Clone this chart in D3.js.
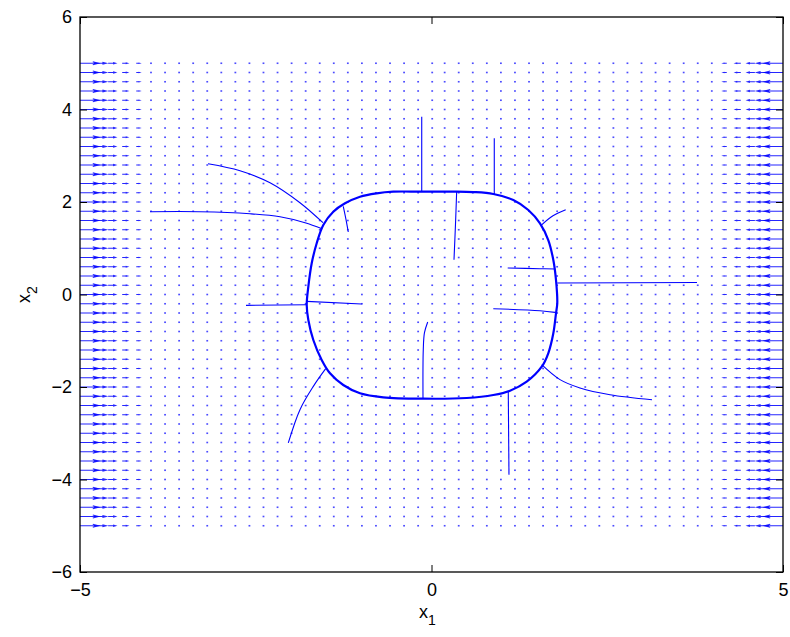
<!DOCTYPE html>
<html>
<head>
<meta charset="utf-8">
<script src="https://cdn.jsdelivr.net/npm/d3@7"></script>
<style>
  body { margin: 0; background: #fff; }
  svg { display: block; }
  .tick text { font-family: "Liberation Sans", Arial, sans-serif; font-size: 18px; fill: #000; }
  .tick line { stroke: #000; stroke-width: 1; }
</style>
</head>
<body>
<svg id="chart" width="790" height="637"></svg>
<script>
// axis ranges and ticks
var X_DOMAIN = [-5, 5];
var Y_DOMAIN = [-6, 6];
var X_TICKS = [-5, 0, 5];
var Y_TICKS = [-6, -4, -2, 0, 2, 4, 6];

// quiver grid: rows / columns of the field (x1, x2 in [-5,5], step 0.2)
var QUIVER_COLS = [-5, -4.8, -4.6, -4.4, -4.2, -4, -3.8, -3.6, -3.4, -3.2, -3, -2.8, -2.6, -2.4, -2.2, -2,
  -1.8, -1.6, -1.4, -1.2, -1, -0.8, -0.6, -0.4, -0.2, 0, 0.2, 0.4, 0.6, 0.8, 1, 1.2, 1.4, 1.6, 1.8,
  2, 2.2, 2.4, 2.6, 2.8, 3, 3.2, 3.4, 3.6, 3.8, 4, 4.2, 4.4, 4.6, 4.8, 5];
var QUIVER_ROWS = QUIVER_COLS.slice();
// horizontal arrow component per column (points to the centre)
var QUIVER_U = [0.26, 0.17, 0.10, 0.07, 0.045, 0.03, 0.022, 0.018, 0.016, 0.015, 0.015, 0.015, 0.014, 0.014, 0.014, 0.014,
  0.014, 0.014, 0.014, 0.014, 0.014, 0.014, 0.014, 0.014, 0.014, 0.012, -0.014, -0.014, -0.014, -0.014, -0.014, -0.014, -0.014, -0.014, -0.014,
  -0.014, -0.014, -0.014, -0.014, -0.015, -0.015, -0.015, -0.016, -0.018, -0.022, -0.03, -0.045, -0.07, -0.10, -0.17, -0.26];

// closed attracting curve
var CYCLE = [
  [-1.775, -0.227], [-1.752, 0.169], [-1.704, 0.675], [-1.633, 1.107], [-1.539, 1.503], [-1.397, 1.790],
  [-1.230, 1.972], [-1.017, 2.115], [-0.780, 2.188], [-0.543, 2.223], [-0.164, 2.225], [0.300, 2.225],
  [0.595, 2.215], [0.879, 2.173], [1.164, 2.043], [1.377, 1.827], [1.543, 1.539], [1.661, 1.178],
  [1.733, 0.746], [1.771, 0.314], [1.789, -0.190], [1.771, -0.406], [1.733, -0.839], [1.661, -1.271],
  [1.568, -1.561], [1.354, -1.885], [1.117, -2.080], [0.879, -2.173], [0.501, -2.238], [-0.117, -2.253],
  [-0.686, -2.223], [-1.017, -2.136], [-1.255, -1.957], [-1.444, -1.704], [-1.562, -1.416], [-1.681, -0.984],
  [-1.752, -0.551]
];

// trajectories converging onto the curve
var TRAJ_1 = [[-3.179, 2.827], [-2.724, 2.676], [-2.297, 2.416], [-1.871, 1.984], [-1.544, 1.552]];
var TRAJ_2 = [[-4.004, 1.790], [-3.293, 1.790], [-2.582, 1.746], [-2.155, 1.681], [-1.799, 1.552], [-1.558, 1.422]];
var TRAJ_3 = [[-1.255, 1.904], [-1.216, 1.617], [-1.184, 1.351]];
var TRAJ_4 = [[-0.139, 3.843], [-0.139, 2.222]];
var TRAJ_5 = [[0.893, 3.380], [0.893, 2.160]];
var TRAJ_6 = [[0.358, 2.228], [0.341, 1.509], [0.320, 0.752]];
var TRAJ_7 = [[1.909, 1.833], [1.728, 1.701], [1.567, 1.506]];
var TRAJ_8 = [[1.084, 0.573], [1.543, 0.558], [1.757, 0.551]];
var TRAJ_9 = [[3.777, 0.259], [1.789, 0.249]];
var TRAJ_10 = [[0.879, -0.307], [1.543, -0.350], [1.757, -0.387]];
var TRAJ_11 = [[-2.639, -0.235], [-1.775, -0.220]];
var TRAJ_12 = [[-1.775, -0.149], [-0.993, -0.205]];
var TRAJ_13 = [[-0.054, -0.594], [-0.100, -0.826], [-0.117, -1.193], [-0.121, -2.237]];
var TRAJ_14 = [[1.092, -2.094], [1.102, -3.895]];
var TRAJ_15 = [[-2.037, -3.209], [-1.871, -2.490], [-1.681, -1.986], [-1.505, -1.604]];
var TRAJ_16 = [[1.568, -1.517], [1.828, -1.841], [2.112, -2.021], [2.539, -2.166], [3.137, -2.274]];
var TRAJECTORIES = [TRAJ_1, TRAJ_2, TRAJ_3, TRAJ_4, TRAJ_5, TRAJ_6, TRAJ_7, TRAJ_8,
  TRAJ_9, TRAJ_10, TRAJ_11, TRAJ_12, TRAJ_13, TRAJ_14, TRAJ_15, TRAJ_16];

var BLUE = "#0000ff";
var LEFT = 80, RIGHT = 783, TOP = 17, BOTTOM = 572;

var svg = d3.select("#chart");
var x = d3.scaleLinear().domain(X_DOMAIN).range([LEFT, RIGHT]);
var y = d3.scaleLinear().domain(Y_DOMAIN).range([BOTTOM, TOP]);

// quiver field
var arrows = [];
QUIVER_COLS.forEach(function(cx, i){
    QUIVER_ROWS.forEach(function(cy){
        arrows.push({x: cx, y: cy, u: QUIVER_U[i]});
    });
});
var q = svg.append("g").attr("class", "quiver");
arrows.forEach(function(d){
    var x0 = x(d.x), y0 = y(d.y);
    var x1 = x(d.x + d.u), y1 = y0;
    var len = x1 - x0;
    var big = Math.abs(len) > 3;
    if (!big) {
        // tiny vectors show up as small dots
        var s = len < 0 ? -1 : 1;
        q.append("rect")
            .attr("x", Math.min(x0, x0 + s * 1.6) - 0.2).attr("y", y0 - 0.8)
            .attr("width", 1.8).attr("height", 1.6)
            .attr("fill", BLUE).attr("fill-opacity", 0.7);
        return;
    }
    var p = "M" + x0 + "," + y0 + "L" + x1 + "," + y1;
    var hx = x1 - len * 0.3, hw = Math.min(Math.abs(len) * 0.08, 1.6);
    p += "M" + hx + "," + (y1 - hw) + "L" + x1 + "," + y1 + "L" + hx + "," + (y1 + hw);
    q.append("path").attr("d", p)
        .attr("fill", "none")
        .attr("stroke", BLUE)
        .attr("stroke-width", 1.2)
        .attr("stroke-opacity", 0.85);
});

var line = d3.line().x(function(d){ return x(d[0]); }).y(function(d){ return y(d[1]); });

// trajectories
svg.append("g").selectAll("path")
    .data(TRAJECTORIES)
    .enter().append("path")
    .attr("d", line.curve(d3.curveCatmullRom.alpha(0.5)))
    .attr("fill", "none")
    .attr("stroke", BLUE)
    .attr("stroke-width", 1.1);

// closed curve
svg.append("path")
    .datum(CYCLE)
    .attr("d", d3.line().x(function(d){ return x(d[0]); }).y(function(d){ return y(d[1]); })
        .curve(d3.curveCatmullRomClosed.alpha(0.5)))
    .attr("fill", "none")
    .attr("stroke", BLUE)
    .attr("stroke-width", 2.2);

// axes (ticks inside, all four sides)
var TICK = 7;
var minus = function(d){ return d3.format("")(d).replace("-", "\u2212"); };
var gb = svg.append("g").attr("transform", "translate(0," + BOTTOM + ")")
    .call(d3.axisBottom(x).tickValues(X_TICKS).tickSizeInner(-TICK).tickSizeOuter(0).tickPadding(11).tickFormat(minus));
var gt = svg.append("g").attr("transform", "translate(0," + TOP + ")")
    .call(d3.axisTop(x).tickValues(X_TICKS).tickSizeInner(-TICK).tickSizeOuter(0).tickFormat(""));
var gl = svg.append("g").attr("transform", "translate(" + LEFT + ",0)")
    .call(d3.axisLeft(y).tickValues(Y_TICKS).tickSizeInner(-TICK).tickSizeOuter(0).tickPadding(8).tickFormat(minus));
var gr = svg.append("g").attr("transform", "translate(" + RIGHT + ",0)")
    .call(d3.axisRight(y).tickValues(Y_TICKS).tickSizeInner(-TICK).tickSizeOuter(0).tickFormat(""));
[gb, gt, gl, gr].forEach(function(g){ g.select(".domain").remove(); });

svg.append("rect")
    .attr("x", LEFT).attr("y", TOP)
    .attr("width", RIGHT - LEFT).attr("height", BOTTOM - TOP)
    .attr("fill", "none").attr("stroke", "#000").attr("stroke-width", 1.3);

// axis labels
var xl = svg.append("text")
    .attr("x", (LEFT + RIGHT) / 2 - 4).attr("y", 618)
    .attr("text-anchor", "middle")
    .style("font-family", "Liberation Sans, Arial, sans-serif").style("font-size", "18px");
xl.append("tspan").text("x");
xl.append("tspan").attr("dy", 7).style("font-size", "14px").text("1");

var yl = svg.append("text")
    .attr("transform", "translate(30," + ((TOP + BOTTOM) / 2) + ") rotate(-90)")
    .attr("text-anchor", "middle")
    .style("font-family", "Liberation Sans, Arial, sans-serif").style("font-size", "18px");
yl.append("tspan").text("x");
yl.append("tspan").attr("dy", 7).style("font-size", "14px").text("2");
</script>
</body>
</html>
